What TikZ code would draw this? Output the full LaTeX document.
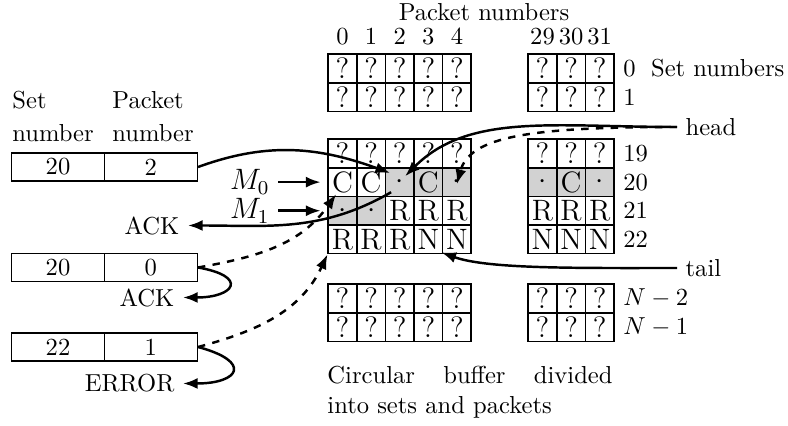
\documentclass[tikz,border=0pt]{standalone}
\usepackage{tikz}
\usetikzlibrary{positioning, arrows.meta, matrix}
\usepackage{xcolor}

\tikzset{
  cell/.style={draw, semithick, minimum size=11.64pt, inner sep=0pt, anchor=center, font=\large},
  buf/.style={matrix of nodes, anchor=north west, inner sep=0pt, column sep=-0.6pt, row sep=-0.6pt, nodes={cell}},
  used/.style={fill=gray!35},
  field/.style={draw, semithick, minimum width=37.8pt, minimum height=11.4pt, inner sep=0pt},
  flow/.style={line width=1pt, -{Latex[length=6pt,width=4.5pt]}},
  probe/.style={flow, dashed},
}

\begin{document}
\begin{tikzpicture}[x=0.407pt, y=-0.407pt]
\useasboundingbox (0,0) rectangle (788,426);

% buffer blocks: sets 0-1, 19-22 and N-2, N-1
\matrix (tl) at (327,53) [buf] {
  ? & ? & ? & ? & ? \\
  ? & ? & ? & ? & ? \\
};
\matrix (tr) at (527,53) [buf] {
  ? & ? & ? \\
  ? & ? & ? \\
};
\matrix (ml) at (327,138) [buf] {
  ? & ? & ? & ? & ? \\
  C & C & |[used]| $\cdot$ & |[used]| C & |[used]| $\cdot$ \\
  |[used]| $\cdot$ & |[used]| $\cdot$ & R & R & R \\
  R & R & R & N & N \\
};
\matrix (mr) at (527,138) [buf] {
  ? & ? & ? \\
  |[used]| $\cdot$ & |[used]| C & |[used]| $\cdot$ \\
  R & R & R \\
  N & N & N \\
};
\matrix (bl) at (327,283) [buf] {
  ? & ? & ? & ? & ? \\
  ? & ? & ? & ? & ? \\
};
\matrix (br) at (527,283) [buf] {
  ? & ? & ? \\
  ? & ? & ? \\
};

% packet and set numbering
\node[anchor=base] (pktnums) at (484,21) {Packet numbers};
\foreach \k [count=\c] in {0,...,4}
  \node[above=0pt of tl-1-\c] (pn\k) {\k};
\foreach \k [count=\c] in {29,30,31}
  \node[above=0pt of tr-1-\c] (pn\k) {\k};
\foreach \s [count=\r] in {0,1}
  \node[right=0pt of tr-\r-3] (sn\s) {\s};
\foreach \s [count=\r] in {19,...,22}
  \node[right=0pt of mr-\r-3] (sn\s) {\s};
\node[right=0pt of br-1-3] (snm2) {$N-2$};
\node[right=0pt of br-2-3] (snm1) {$N-1$};
\node[right=-0.8pt of sn0] (setnums) {Set numbers};

% incoming packets
\node[anchor=north west, inner sep=0pt, align=left] (sethdr) at (12,91) {Set\\[1.5pt]number};
\node[anchor=north west, inner sep=0pt, align=left] (pkthdr) at (112,91) {Packet\\[1.5pt]number};
\node[field] (set1) at (58,167) {20};
\node[field, right=-0.6pt of set1] (pkt1) {2};
\node[field] (set2) at (58,267.5) {20};
\node[field, right=-0.6pt of set2] (pkt2) {0};
\node[field] (set3) at (58,347) {22};
\node[field, right=-0.6pt of set3] (pkt3) {1};

% replies and markers
\node[left=20pt of ml-2-1, font=\large] (m0) {$M_0$};
\node[left=20pt of ml-3-1, font=\large] (m1) {$M_1$};
\node[anchor=east] (ack1) at (188,225.5) {ACK};
\node[anchor=east] (ack2) at (183,297.5) {ACK};
\node[anchor=east] (err) at (183,383.5) {ERROR};
\node[anchor=west] (head) at (677,127) {head};
\node[anchor=west] (tail) at (677,268) {tail};

\node[anchor=north west, inner sep=0pt, text width=116pt, align=justify] (cap) at (327,366)
  {Circular buffer divided\linebreak into sets and packets};

\draw[flow, shorten >=2.8pt] (m0) -- (ml-2-1);
\draw[flow, shorten >=2.8pt] (m1) -- (ml-3-1);
\draw[flow] (pkt1.east) to[out=20, in=160] ([xshift=-3.9pt, yshift=3.7pt]ml-2-3.center);
\draw[flow] ([xshift=-3.5pt, yshift=-4.1pt]ml-2-3.center) to[out=-150, in=0] (ack1.east);
\draw[flow] (head.west) to[out=180, in=45, out distance=50pt, in distance=36.6pt] ([xshift=2.2pt, yshift=2.4pt]ml-2-3.center);
\draw[probe] (head.west) to[out=180, in=75, out distance=60pt, in distance=20pt] ([yshift=-0.8pt]ml-2-5.center);
\draw[flow] (tail.west) to[out=180, in=-20, out distance=40pt, in distance=20pt] ([xshift=-0.8pt, yshift=0.8pt]ml-4-4.south east);
\draw[probe] (pkt2.east) to[out=10, in=-125] ([xshift=-2.6pt, yshift=-4.9pt]ml-2-1.center);
\draw[flow] (pkt2.east) to[out=-10, in=0, distance=21pt] (ack2.east);
\draw[probe] (pkt3.east) to[out=15, in=-115] (ml-4-1.south west);
\draw[flow] (pkt3.east) to[out=-15, in=0, distance=23pt] (err.east);
\end{tikzpicture}
\end{document}
